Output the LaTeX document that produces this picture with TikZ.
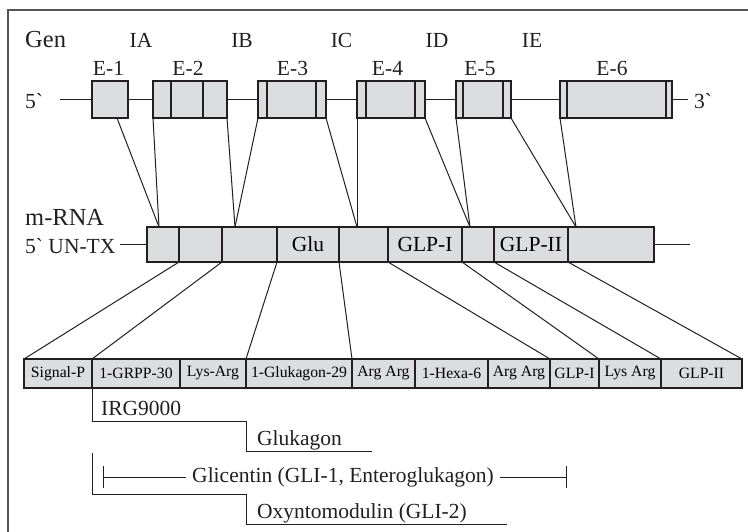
\documentclass[tikz,border=0pt]{standalone}
\usepackage{fontspec}
\setmainfont{Liberation Serif}
\usetikzlibrary{calc}
\definecolor{boxfill}{HTML}{DCDDDF}
\definecolor{ink}{HTML}{231F20}
\definecolor{framec}{HTML}{555555}
\begin{document}
\begin{tikzpicture}[x=1pt,y=-1pt,
  exon/.style={draw=ink, fill=boxfill, line width=1.2pt, minimum height=37pt, inner sep=0pt, outer sep=0pt, anchor=north west},
  mcell/.style={draw=ink, fill=boxfill, line width=1.2pt, minimum height=35pt, inner sep=0pt, outer sep=0pt, anchor=north west, font=\fontsize{21.5}{24}\selectfont},
  pcell/.style={draw=ink, fill=boxfill, line width=1.2pt, minimum height=29pt, inner sep=0pt, outer sep=0pt, anchor=north west, font=\fontsize{15.7}{18}\selectfont},
  lbl/.style={font=\fontsize{21.5}{24}\selectfont, inner sep=0pt, text=ink},
  big/.style={font=\fontsize{24.5}{28}\selectfont, inner sep=0pt, text=ink},
  conn/.style={draw=ink, line width=1pt},
  divl/.style={draw=ink, line width=1.2pt}]
\useasboundingbox (0,0) rectangle (748,531);
% frame
\draw[framec, line width=2pt] (8,532) -- (8,10) -- (749,10);

% ---------- gene ----------
\node[big, anchor=base west] (gen) at (25,47) {Gen};
\foreach \n/\x in {IA/141,IB/242,IC/341.5,ID/437,IE/532}
  \node[lbl, anchor=base] (lab\n) at (\x,47) {\n};
\foreach \n/\x in {1/108.5,2/188,3/292.5,4/387.5,5/480,6/612}
  \node[lbl, anchor=base] (elab\n) at (\x,75) {E-\n};
\node[lbl, anchor=base west] (five) at (25,108) {5\textasciigrave};
\node[lbl, anchor=base west] (three) at (694,108) {3\textasciigrave};
\coordinate (gstart) at (60,99.5);
\coordinate (gend) at (688,99.5);

\node[exon, minimum width=36pt] (e1) at (92,81) {};
\node[exon, minimum width=74pt] (e2) at (153,81) {};
\node[exon, minimum width=68pt] (e3) at (258,81) {};
\node[exon, minimum width=68pt] (e4) at (357,81) {};
\node[exon, minimum width=55pt] (e5) at (456,81) {};
\node[exon, minimum width=112pt] (e6) at (560,81) {};
\foreach \x in {171,203,267,316,366,415,463,503,567,666}
  \draw[divl] (\x,81) -- (\x,118);

\draw[conn] (gstart) -- (e1.west);
\draw[conn] (e1.east) -- (e2.west);
\draw[conn] (e2.east) -- (e3.west);
\draw[conn] (e3.east) -- (e4.west);
\draw[conn] (e4.east) -- (e5.west);
\draw[conn] (e5.east) -- (e6.west);
\draw[conn] (e6.east) -- (gend);

% ---------- mRNA ----------
\node[big, anchor=base west] (mrna) at (25,225) {m-RNA};
\node[lbl, anchor=base west] (untx) at (25,253) {5\textasciigrave{} UN-TX};

\node[mcell, minimum width=32pt] (m1) at (147,227) {};
\node[mcell, minimum width=43pt] (m2) at (179,227) {};
\node[mcell, minimum width=55pt] (m3) at (222,227) {};
\node[mcell, minimum width=62pt] (m4) at (277,227) {Glu};
\node[mcell, minimum width=49pt] (m5) at (339,227) {};
\node[mcell, minimum width=74pt] (m6) at (388,227) {GLP-I};
\node[mcell, minimum width=32pt] (m7) at (462,227) {};
\node[mcell, minimum width=74pt] (m8) at (494,227) {GLP-II};
\node[mcell, minimum width=86pt] (m9) at (568,227) {};
\coordinate (mend) at (690,244.5);
\draw[conn, shorten <=4pt] (untx.east |- m1.west) -- (m1.west);
\draw[conn] (m9.east) -- (mend);

% exon -> mRNA splice lines
\coordinate (j1) at (159,227);
\coordinate (j2) at (235,227);
\coordinate (j3) at (357,227);
\coordinate (j4) at (470,227);
\coordinate (j5) at (576,227);
\draw[conn] ($(e1.south west)+(25,0)$) -- (j1);
\draw[conn] (e2.south west) -- (j1);
\draw[conn] (e2.south east) -- (j2);
\draw[conn] (e3.south west) -- (j2);
\draw[conn] (e3.south east) -- (j3);
\draw[conn] (e4.south west) -- (j3);
\draw[conn] (e4.south east) -- (j4);
\draw[conn] (e5.south west) -- (j4);
\draw[conn] (e5.south east) -- (j5);
\draw[conn] (e6.south west) -- (j5);

% ---------- protein ----------
\node[pcell, minimum width=68pt] (p1) at (24,359) {Signal-P};
\node[pcell, minimum width=88pt] (p2) at (92,359) {1-GRPP-30};
\node[pcell, minimum width=66pt] (p3) at (180,359) {Lys-Arg};
\node[pcell, minimum width=106pt] (p4) at (246,359) {1-Glukagon-29};
\node[pcell, minimum width=63pt] (p5) at (352,359) {Arg Arg};
\node[pcell, minimum width=73pt] (p6) at (415,359) {1-Hexa-6};
\node[pcell, minimum width=62pt] (p7) at (488,359) {Arg Arg};
\node[pcell, minimum width=49pt] (p8) at (550,359) {GLP-I};
\node[pcell, minimum width=62pt] (p9) at (599,359) {Lys Arg};
\node[pcell, minimum width=81pt] (p10) at (661,359) {GLP-II};

\draw[conn] (m1.south east) -- (p1.north west);
\draw[conn] (m2.south east) -- (p2.north west);
\draw[conn] (m3.south east) -- (p4.north west);
\draw[conn] (m4.south east) -- (p5.north west);
\draw[conn] (m5.south east) -- (p8.north west);
\draw[conn] (m6.south east) -- (p9.north west);
\draw[conn] (m7.south east) -- (p10.north west);
\draw[conn] (m8.south east) -- (p10.north east);

% ---------- products ----------
\node[lbl, anchor=base west] (irg) at (101,415) {IRG9000};
\node[lbl, anchor=base west] (glk) at (257,445) {Glukagon};
\draw[conn] (p2.south west) -- (92,421) -- (246,421) -- (246,451) -- (372,451);

\node[lbl, anchor=base] (gli) at (343,482) {Glicentin (GLI-1, Enteroglukagon)};
\coordinate (gliL) at (103,477);
\coordinate (gliR) at (566,477);
\draw[conn] (103,466) -- (103,488);
\draw[conn] (566,466) -- (566,488);
\draw[conn, shorten >=6pt] (gliL) -- (gli.west |- gliL);
\draw[conn, shorten <=6pt] (gli.east |- gliR) -- (gliR);

\node[lbl, anchor=base west] (oxy) at (257,518) {Oxyntomodulin (GLI-2)};
\draw[conn] (92,453) -- (92,494) -- (246,494) -- (246,524) -- (507,524);
\end{tikzpicture}
\end{document}
